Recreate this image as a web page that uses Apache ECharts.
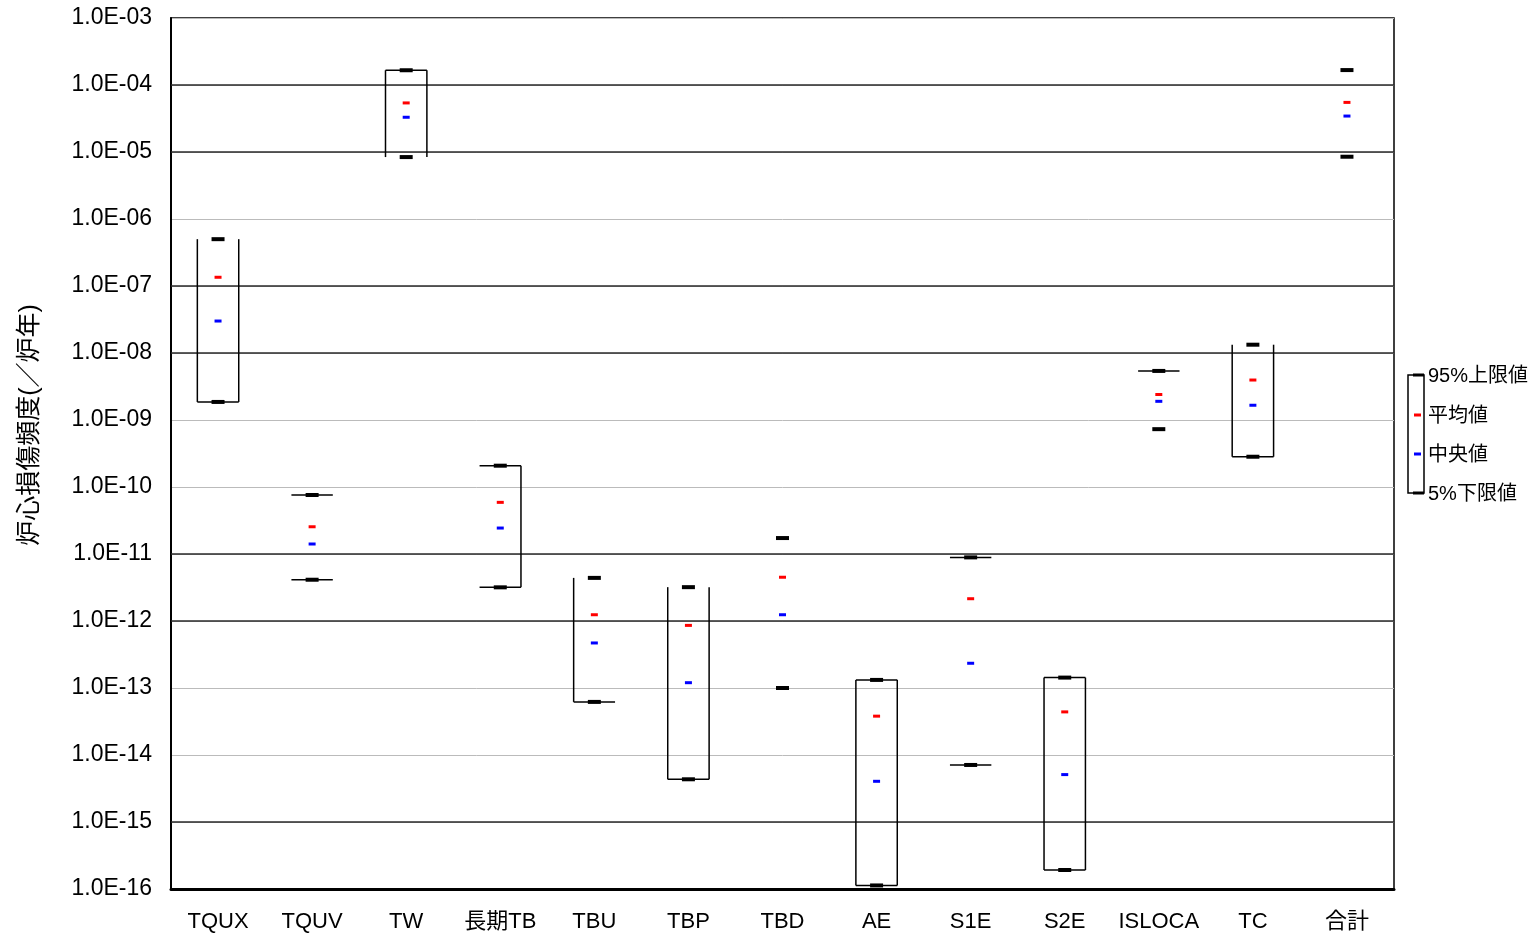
<!DOCTYPE html>
<html>
<head>
<meta charset="utf-8">
<script src="https://cdn.jsdelivr.net/npm/echarts@6/dist/echarts.min.js"></script>
<style>html,body{margin:0;padding:0;background:#fff}#main{width:1540px;height:939px}</style>
</head>
<body>
<div id="main"></div>
<script>
// ---- data ----
const categories = ['TQUX','TQUV','TW','長期TB','TBU','TBP','TBD','AE','S1E','S2E','ISLOCA','TC','合計'];
const upper95 = [5.0e-7, 7.6e-11, 1.66e-4, 2.08e-10, 4.4e-12, 3.2e-12, 1.73e-11, 1.32e-13, 8.9e-12, 1.43e-13, 5.4e-9, 1.33e-8, 1.67e-4];
const meanVal = [1.35e-7, 2.55e-11, 5.4e-5, 5.9e-11, 1.24e-12, 8.6e-13, 4.5e-12, 3.8e-14, 2.15e-12, 4.4e-14, 2.4e-9, 3.95e-9, 5.5e-5];
const medianVal = [3.0e-8, 1.41e-11, 3.3e-5, 2.44e-11, 4.7e-13, 1.2e-13, 1.24e-12, 4.05e-15, 2.34e-13, 5.1e-15, 1.9e-9, 1.66e-9, 3.44e-5];
const lower5 = [1.86e-9, 4.13e-12, 8.4e-6, 3.18e-12, 6.2e-14, 4.34e-15, 1.0e-13, 1.13e-16, 7.1e-15, 1.92e-16, 7.3e-10, 2.83e-10, 8.5e-6];
const legendNames = ['95%上限値','平均値','中央値','5%下限値'];
const yAxisTitle = '炉心損傷頻度(／炉年)';

// ---- style config ----
const boxEdges = ['LRB','TB','LRT','TBR','LB','LRB','','LRTB','TB','LRTB','T','LRB',''];
const darkGridValues = [1e-4, 1e-5, 1e-7, 1e-8, 1e-11, 1e-12, 1e-15];

const FONT = '"Liberation Sans", "Noto Sans CJK JP", sans-serif';
const chart = echarts.init(document.getElementById('main'));

const boxData = categories.map((c, i) => [i, upper95[i], meanVal[i], medianVal[i], lower5[i]]);

function renderItem(params, api) {
  const i = api.value(0);
  const pU = api.coord([i, api.value(1)]);
  const pM = api.coord([i, api.value(2)]);
  const pD = api.coord([i, api.value(3)]);
  const pL = api.coord([i, api.value(4)]);
  const xc = pU[0];
  const bw = api.size([1, 0])[0] * 0.44;
  const xl = xc - bw / 2, xr = xc + bw / 2;
  const edges = boxEdges[params.dataIndex] || '';
  const ls = {stroke: '#000', lineWidth: 1.5};
  const ch = [];
  if (edges.includes('L')) ch.push({type: 'line', shape: {x1: xl, y1: pU[1], x2: xl, y2: pL[1]}, style: ls});
  if (edges.includes('R')) ch.push({type: 'line', shape: {x1: xr, y1: pU[1], x2: xr, y2: pL[1]}, style: ls});
  if (edges.includes('T')) ch.push({type: 'line', shape: {x1: xl, y1: pU[1], x2: xr, y2: pU[1]}, style: ls});
  if (edges.includes('B')) ch.push({type: 'line', shape: {x1: xl, y1: pL[1], x2: xr, y2: pL[1]}, style: ls});
  ch.push({type: 'rect', shape: {x: xc - 6.5, y: pU[1] - 2, width: 13, height: 4}, style: {fill: '#000'}});
  ch.push({type: 'rect', shape: {x: xc - 6.5, y: pL[1] - 2, width: 13, height: 4}, style: {fill: '#000'}});
  ch.push({type: 'rect', shape: {x: xc - 3.5, y: pM[1] - 1.5, width: 7, height: 3}, style: {fill: '#ff0000'}});
  ch.push({type: 'rect', shape: {x: xc - 3.5, y: pD[1] - 1.5, width: 7, height: 3}, style: {fill: '#0000ff'}});
  return {type: 'group', children: ch};
}

function renderGridLine(params, api) {
  const cs = params.coordSys;
  const y = api.coord([0, api.value(0)])[1];
  return {type: 'line', shape: {x1: cs.x, y1: y, x2: cs.x + cs.width, y2: y}, style: {stroke: '#2a2a2a', lineWidth: 1.5}};
}

function fmtExp(v) {
  const e = Math.round(Math.log10(v));
  const s = e < 0 ? '-' : '+';
  const a = Math.abs(e);
  return '1.0E' + s + (a < 10 ? '0' + a : a);
}

// legend drawn with graphic (bracket + texts)
const lgX = 1408, lgTop = 375, lgBot = 493;
const lgYs = [376, 416, 455, 494];
const graphics = [
  {type: 'rect', shape: {x: lgX, y: lgTop, width: 16, height: lgBot - lgTop}, style: {fill: 'none', stroke: '#000', lineWidth: 1.5}},
  {type: 'rect', shape: {x: lgX + 5, y: lgTop - 1.5, width: 11, height: 3}, style: {fill: '#000'}},
  {type: 'rect', shape: {x: lgX + 5, y: lgBot - 1.5, width: 11, height: 3}, style: {fill: '#000'}},
  {type: 'rect', shape: {x: lgX + 6, y: 415 - 1.5, width: 7, height: 3}, style: {fill: '#ff0000'}},
  {type: 'rect', shape: {x: lgX + 6, y: 454 - 1.5, width: 7, height: 3}, style: {fill: '#0000ff'}},
  {type: 'text', x: 30, y: 425, rotation: Math.PI / 2,
   style: {text: yAxisTitle, fill: '#000', font: '25px ' + FONT, textAlign: 'center', textVerticalAlign: 'middle'}}
];
legendNames.forEach((n, k) => {
  graphics.push({type: 'text', x: 1428, y: lgYs[k], style: {text: n, fill: '#000', font: '20px ' + FONT, textVerticalAlign: 'middle', textAlign: 'left'}});
});

chart.setOption({
  animation: false,
  backgroundColor: '#fff',
  grid: {left: 171, right: 146, top: 18, bottom: 50, show: true, borderColor: '#000', borderWidth: 1.5},
  xAxis: {
    type: 'category',
    data: categories,
    axisLine: {lineStyle: {color: '#000', width: 3}},
    axisTick: {show: false},
    axisLabel: {color: '#000', fontSize: 22, fontFamily: FONT, margin: 22, interval: 0}
  },
  yAxis: {
    type: 'log',
    logBase: 10,
    min: 1e-16,
    max: 1e-3,
    interval: 1,
    axisLine: {show: true, lineStyle: {color: '#000', width: 2}},
    axisTick: {show: false},
    axisLabel: {color: '#000', fontSize: 23, fontFamily: FONT, margin: 19, formatter: fmtExp},
    splitLine: {show: true, lineStyle: {color: '#bbbbbb', width: 1}}
  },
  graphic: graphics,
  series: [
    {
      type: 'custom',
      name: 'darkGrid',
      renderItem: renderGridLine,
      data: darkGridValues.map(v => [v]),
      encode: {y: 0},
      silent: true,
      z: 1
    },
    {
      type: 'custom',
      name: 'box',
      renderItem: renderItem,
      data: boxData,
      encode: {x: 0, y: [1, 2, 3, 4]},
      clip: false,
      z: 3
    }
  ]
});
</script>
</body>
</html>
